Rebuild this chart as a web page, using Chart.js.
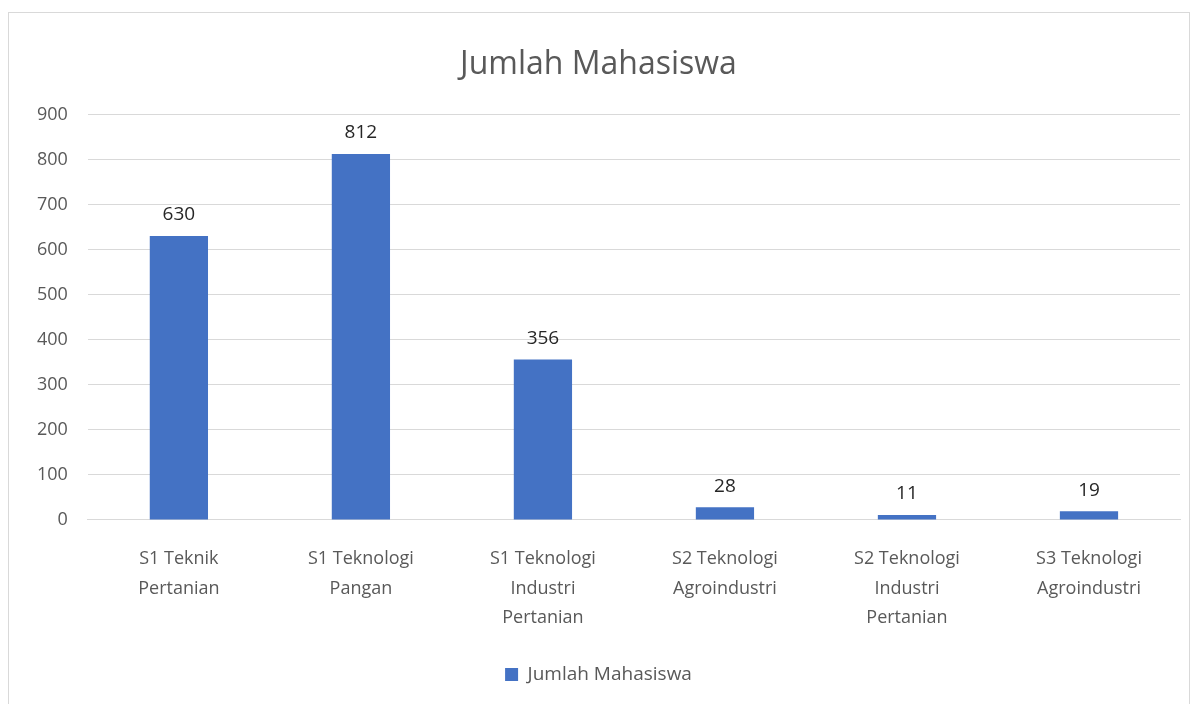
<!DOCTYPE html>
<html>
<head>
<meta charset="utf-8">
<script src="https://cdn.jsdelivr.net/npm/chart.js@4.4.1/dist/chart.umd.min.js"></script>
<style>
  html, body { margin: 0; padding: 0; background: #ffffff; }
  #wrap { position: absolute; left: 8px; top: 12px; width: 1182px; height: 700px; border: 1px solid #d9d9d9; box-sizing: border-box; background:#fff; }
  canvas { display: block; }
</style>
</head>
<body>
<div id="wrap"><canvas id="c" width="1180" height="698"></canvas></div>
<script>
const categories = [
  ["S1 Teknik", "Pertanian"],
  ["S1 Teknologi", "Pangan"],
  ["S1 Teknologi", "Industri", "Pertanian"],
  ["S2 Teknologi", "Agroindustri"],
  ["S2 Teknologi", "Industri", "Pertanian"],
  ["S3 Teknologi", "Agroindustri"]
];
const jumlahMahasiswa = [630, 812, 356, 28, 11, 19];
const seriesName = "Jumlah Mahasiswa";
const chartTitle = "Jumlah Mahasiswa";
const yMin = 0, yMax = 900, yStep = 100;

const FONT = "'Open Sans', 'Liberation Sans', sans-serif";
const BLUE = "#4472C4";

const dataLabels = {
  id: 'dataLabels',
  afterDatasetsDraw(chart) {
    const ctx = chart.ctx;
    const meta = chart.getDatasetMeta(0);
    ctx.save();
    ctx.font = "19px " + FONT;
    ctx.fillStyle = "#262626";
    ctx.textAlign = "center";
    ctx.textBaseline = "middle";
    meta.data.forEach((bar, i) => {
      ctx.fillText(String(chart.data.datasets[0].data[i]), bar.x, bar.y - 21);
    });
    ctx.restore();
  }
};

new Chart(document.getElementById('c'), {
  type: 'bar',
  data: {
    labels: categories,
    datasets: [{
      label: seriesName,
      data: jumlahMahasiswa,
      backgroundColor: BLUE,
      borderWidth: 0,
      barPercentage: 0.64,
      categoryPercentage: 0.5
    }]
  },
  options: {
    responsive: false,
    animation: false,
    devicePixelRatio: 1,
    layout: { padding: { left: 8, right: 9, top: 16, bottom: 17 } },
    plugins: {
      title: {
        display: true,
        text: chartTitle,
        color: "#595959",
        font: { family: FONT, size: 32, weight: 'normal' },
        padding: { top: 17, bottom: 30 }
      },
      legend: {
        display: true,
        position: 'bottom',
        labels: {
          color: "#595959",
          font: { family: FONT, size: 19 },
          boxWidth: 13,
          boxHeight: 13,
          padding: 16
        }
      },
      tooltip: { enabled: false }
    },
    scales: {
      x: {
        grid: { display: false },
        border: { display: true, color: "#d9d9d9" },
        ticks: {
          color: "#595959",
          font: { family: FONT, size: 18, lineHeight: 1.65 },
          maxRotation: 0,
          autoSkip: false,
          padding: 16
        }
      },
      y: {
        min: yMin,
        max: yMax,
        grid: { color: "#d9d9d9", drawTicks: false },
        border: { display: false },
        ticks: {
          stepSize: yStep,
          color: "#595959",
          font: { family: FONT, size: 18 },
          padding: 20
        }
      }
    }
  },
  plugins: [dataLabels]
});
</script>
</body>
</html>
